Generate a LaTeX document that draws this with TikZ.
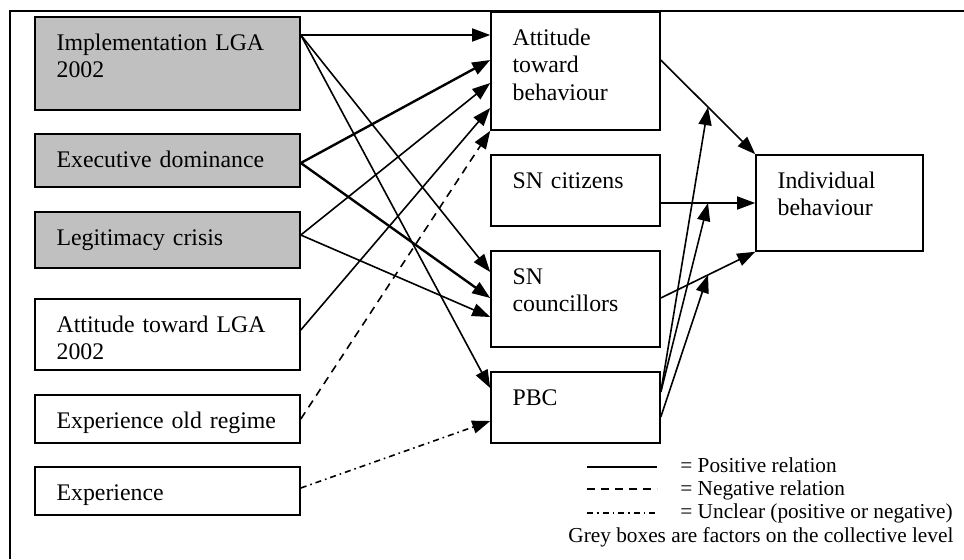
\documentclass[tikz,border=0pt]{standalone}
\usepackage{fontspec}
\setmainfont{Liberation Serif}
\usetikzlibrary{arrows.meta,fit}

\definecolor{boxgrey}{RGB}{192,192,192}

\tikzset{
  box/.style={draw, line width=0.8pt, inner sep=0pt},
  greybox/.style={box, fill=boxgrey},
  txt/.style={anchor=base west, inner sep=0pt, text width=140pt,
    xshift=11pt, yshift=-17pt, font=\fontsize{11.9}{13.8}\selectfont\raggedright},
  rel/.style={line width=0.8pt, -{Triangle[length=9pt,width=6.5pt]}},
  neg/.style={rel, dash pattern=on 4pt off 3pt},
  unc/.style={rel, dash pattern=on 3pt off 2pt on 0.8pt off 2pt},
  legend/.style={anchor=base west, inner sep=0pt, font=\fontsize{10.65}{11.5}\selectfont},
}

\begin{document}
\begin{tikzpicture}[x=0.5pt,y=-0.5pt]
\useasboundingbox (0,0) rectangle (964,559);

%% frame
\draw[line width=0.8pt] (10,559) -- (10,11) -- (964,11);

%% left column
\node[greybox, fit={(35,17) (300,110)},  label={[txt]north west:Implementation LGA\\2002}] (impl) {};
\node[greybox, fit={(35,134) (300,187)}, label={[txt]north west:Executive dominance}] (exec) {};
\node[greybox, fit={(35,212) (300,268)}, label={[txt]north west:Legitimacy crisis}] (legit) {};
\node[box, fit={(35,299) (300,370)}, label={[txt]north west:Attitude toward LGA\\2002}] (attlga) {};
\node[box, fit={(35,395) (300,443)}, label={[txt]north west:Experience old regime}] (oldreg) {};
\node[box, fit={(35,467) (300,515)}, label={[txt]north west:Experience}] (exper) {};

%% middle column
\node[box, fit={(491,12) (660,130)},  label={[txt]north west:Attitude\\toward\\behaviour}] (att) {};
\node[box, fit={(491,155) (660,226)}, label={[txt]north west:SN citizens}] (sncit) {};
\node[box, fit={(491,251) (660,347)}, label={[txt]north west:SN\\councillors}] (sncoun) {};
\node[box, fit={(491,372) (660,443)}, label={[txt]north west:PBC}] (pbc) {};

%% outcome
\node[box, fit={(756,155) (923,251)}, label={[txt]north west:Individual\\behaviour}] (indiv) {};

%% collective level
\draw[rel] (impl.east |- 0,35) -- (att.west |- 0,35);
\draw[rel] (impl.east |- 0,35) -- (sncoun.west |- 0,272);
\draw[rel] (impl.east |- 0,35) -- (pbc.west |- 0,388);
\draw[rel, line width=1.2pt] (exec.east |- 0,163) -- (att.west |- 0,60);
\draw[rel, line width=1.2pt] (exec.east |- 0,163) -- (sncoun.west |- 0,298);
\draw[rel] (legit.east |- 0,235) -- (att.west |- 0,83);
\draw[rel] (legit.east |- 0,235) -- (sncoun.west |- 0,317);

%% individual level
\draw[rel] (attlga.east |- 0,330) -- (att.west |- 0,108);
\draw[neg] (oldreg.east) -- (att.south west);
\draw[unc] (exper.east |- 0,488) -- (pbc.west |- 0,421);

%% towards behaviour
\draw[rel] (att.east |- 0,60) -- coordinate (matt) (indiv.north west);
\draw[rel] (sncit.east |- 0,203) -- coordinate (mcit) (indiv.west |- 0,203);
\draw[rel] (sncoun.east |- 0,298) -- coordinate (mcoun) (indiv.south west);

%% PBC moderates
\draw[rel] (pbc.east |- 0,392) -- (matt);
\draw[rel] (pbc.east |- 0,392) -- (mcit);
\draw[rel] (pbc.east |- 0,417) -- (mcoun);

%% legend
\draw[line width=0.8pt] (587,467) -- (657,467);
\draw[line width=0.8pt, dash pattern=on 4pt off 3pt] (587,489) -- (657,489);
\draw[line width=0.8pt, dash pattern=on 3pt off 2pt on 0.8pt off 2pt] (587,513) -- (657,513);
\node[legend] (lpos) at (680,472) {= Positive relation};
\node[legend] (lneg) at (680,495) {= Negative relation};
\node[legend] (lunc) at (680,518) {= Unclear (positive or negative)};
\node[legend] (lgrey) at (568,542) {Grey boxes are factors on the collective level};
\end{tikzpicture}
\end{document}
